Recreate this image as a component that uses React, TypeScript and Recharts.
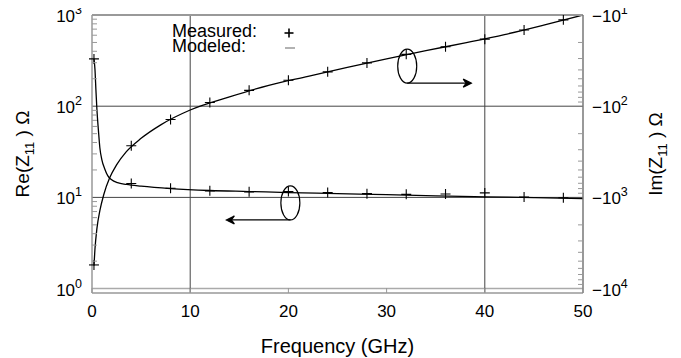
import { ComposedChart, Line, XAxis, YAxis, ReferenceLine, ReferenceDot } from 'recharts';

const FONT = '"Liberation Sans", Arial, Helvetica, sans-serif';

// measured points (GHz, ohm)
const measFreq = [0.2, 4, 8, 12, 16, 20, 24, 28, 32, 36, 40, 44, 48];
const reMeas = [330, 14.2, 12.6, 11.8, 11.5, 11.6, 11.3, 11.0, 10.8, 10.9, 11.2, 10.1, 9.9];
const imMeas = [-5500, -271, -140, -91, -67, -52, -42, -33.5, -27, -22.3, -18.4, -14.6, -11.3];

// modeled curves
const reModFreq = [0.2, 0.3, 0.4, 0.5, 0.65, 0.8, 1.0, 1.3, 1.6, 2.0, 2.6, 3.5, 5, 8, 12, 16, 20, 25, 30, 35, 40, 45, 50];
const reMod = [330, 255, 150, 92, 55, 35, 26, 20.5, 17.3, 15.6, 14.5, 13.9, 13.3, 12.5, 11.9, 11.6, 11.3, 11.0, 10.7, 10.4, 10.15, 9.95, 9.7];
const imModFreq = [0.2, 0.3, 0.5, 0.8, 1.2, 1.8, 2.5, 3.5, 5, 7, 10, 14, 18, 22, 26, 30, 34, 38, 42, 46, 50];
const imMod = [-5600, -3700, -2200, -1400, -930, -610, -440, -315, -225, -160, -110, -79, -59, -47, -37.5, -30.2, -24.6, -20.2, -16.4, -12.9, -10];

const freqTicks = [0, 10, 20, 30, 40, 50];
const reTicks = [1, 2, 3, 4, 5, 6, 7, 8, 9, 10, 20, 30, 40, 50, 60, 70, 80, 90, 100, 200, 300, 400, 500, 600, 700, 800, 900, 1000];
const imTicks = [10, 20, 30, 40, 50, 60, 70, 80, 90, 100, 200, 300, 400, 500, 600, 700, 800, 900, 1000, 2000, 3000, 4000, 5000, 6000, 7000, 8000, 9000, 10000];

const toRows = (f: number[], v: number[]) => f.map((x, i) => ({ f: x, v: v[i] }));
const reMeasData = toRows(measFreq, reMeas);
const imMeasData = toRows(measFreq, imMeas);
const reModData = toRows(reModFreq, reMod);
const imModData = toRows(imModFreq, imMod);

const decade = (v: number) => {
    const p = Math.log10(v);
    return Math.abs(p - Math.round(p)) < 1e-9 ? Math.round(p) : null;
};

function ReTick({ x, y, payload }: any) {
    const p = decade(payload.value);
    if (p === null) return <line x1={x} x2={x + 5} y1={y} y2={y} stroke="#999" />;
    return (
        <text x={x - 10} y={y + 7} textAnchor="end" fontSize={17} fontFamily={FONT} fill="#000">
            10<tspan dy={-8} fontSize={12.5}>{p}</tspan>
        </text>
    );
}

function ImTick({ x, y, payload }: any) {
    const p = decade(payload.value);
    if (p === null) return <line x1={x} x2={x - 5} y1={y} y2={y} stroke="#999" />;
    return (
        <text x={x + 9} y={y + 7} textAnchor="start" fontSize={17} fontFamily={FONT} fill="#000">
            −10<tspan dy={-8} fontSize={12.5}>{p}</tspan>
        </text>
    );
}

function FreqTick({ x, y, payload }: any) {
    return (
        <g>
            <line x1={x} x2={x} y1={y} y2={y - 5} stroke="#999" />
            <text x={x} y={y + 24} textAnchor="middle" fontSize={17} fontFamily={FONT} fill="#000">
                {payload.value}
            </text>
        </g>
    );
}

function TopTick({ x, y }: any) {
    return <line x1={x} x2={x} y1={y} y2={y + 5} stroke="#999" />;
}

function Plus({ cx, cy }: any) {
    if (cx == null || cy == null) return null;
    return (
        <g stroke="#000" strokeWidth={1.1}>
            <line x1={cx - 5} x2={cx + 5} y1={cy} y2={cy} />
            <line x1={cx} x2={cx} y1={cy - 5} y2={cy + 5} />
        </g>
    );
}

// ellipse with an arrow pointing to the axis that the curve belongs to
const pointer = (dir: number) => ({ cx, cy }: any) => {
    const ay = cy + 17;
    const tip = cx + dir * 64;
    return (
        <g stroke="#000" strokeWidth={1.2} fill="none">
            <ellipse cx={cx} cy={cy} rx={9.5} ry={17} />
            <line x1={cx} x2={tip - dir * 4} y1={ay} y2={ay} />
            <path d={`M${tip},${ay} L${tip - dir * 8},${ay - 4} L${tip - dir * 5},${ay} L${tip - dir * 8},${ay + 4} Z`} fill="#000" />
        </g>
    );
};

function ReTitle() {
    const cx = 29, cy = 154;
    return (
        <text transform={`rotate(-90, ${cx}, ${cy})`} x={cx} y={cy} textAnchor="middle" fontSize={19} fontFamily={FONT} fill="#000">
            Re(Z<tspan dy={5} fontSize={13}>11</tspan><tspan dy={-5}> ) Ω</tspan>
        </text>
    );
}

function ImTitle() {
    const cx = 662, cy = 154;
    return (
        <text transform={`rotate(-90, ${cx}, ${cy})`} x={cx} y={cy} textAnchor="middle" fontSize={19} fontFamily={FONT} fill="#000">
            Im(Z<tspan dy={5} fontSize={13}>11</tspan><tspan dy={-5}> ) Ω</tspan>
        </text>
    );
}

export default function App() {
    return (
        <div style={{ position: 'relative', width: 681, height: 358, margin: '-8px 0 0 -8px' }}>
            <ComposedChart width={681} height={358} margin={{ top: 14, right: 0, bottom: 0, left: 0 }}>
                <XAxis
                    xAxisId="top"
                    orientation="top"
                    type="number"
                    domain={[0, 50]}
                    ticks={freqTicks}
                    height={1}
                    tick={<TopTick />}
                    tickSize={0}
                    tickMargin={0}
                    interval={0}
                    axisLine={{ stroke: '#999', strokeWidth: 2 }}
                />
                <XAxis
                    dataKey="f"
                    type="number"
                    domain={[0, 50]}
                    ticks={freqTicks}
                    height={65}
                    tick={<FreqTick />}
                    tickSize={0}
                    tickMargin={0}
                    interval={0}
                    axisLine={{ stroke: '#999', strokeWidth: 1.5 }}
                    label={{ value: 'Frequency (GHz)', position: 'insideBottom', offset: 5, fontSize: 20, fontFamily: FONT, fill: '#000' }}
                />
                <YAxis
                    scale="log"
                    domain={[0.895, 1000]}
                    allowDataOverflow
                    ticks={reTicks}
                    width={92}
                    tick={<ReTick />}
                    tickSize={0}
                    tickMargin={0}
                    interval={0}
                    axisLine={{ stroke: '#999', strokeWidth: 1.5 }}
                    label={{ content: () => <ReTitle /> }}
                />
                <YAxis
                    yAxisId="im"
                    orientation="right"
                    scale="log"
                    reversed
                    domain={[10, 11170]}
                    allowDataOverflow
                    ticks={imTicks}
                    width={98}
                    tick={<ImTick />}
                    tickSize={0}
                    tickMargin={0}
                    interval={0}
                    axisLine={{ stroke: '#777', strokeWidth: 1.5 }}
                    label={{ content: () => <ImTitle /> }}
                />

                <ReferenceLine y={1} stroke="#aaa" strokeWidth={1.5} />
                <ReferenceLine y={10} stroke="#444" />
                <ReferenceLine y={100} stroke="#444" />
                <ReferenceLine x={10} stroke="#444" />
                <ReferenceLine x={40} stroke="#444" />

                <Line data={reModData} dataKey="v" type="monotone" stroke="#000" strokeWidth={1.3} dot={false} isAnimationActive={false} />
                <Line data={imModData} dataKey={(d: any) => -d.v} yAxisId="im" type="monotone" stroke="#000" strokeWidth={1.3} dot={false} isAnimationActive={false} />
                <Line data={reMeasData} dataKey="v" stroke="none" dot={<Plus />} activeDot={false} isAnimationActive={false} />
                <Line data={imMeasData} dataKey={(d: any) => -d.v} yAxisId="im" stroke="none" dot={<Plus />} activeDot={false} isAnimationActive={false} />

                <ReferenceDot x={32.1} y={275} r={0} shape={pointer(1)} />
                <ReferenceDot x={20.2} y={8.7} r={0} shape={pointer(-1)} />
            </ComposedChart>

            <svg width={681} height={358} style={{ position: 'absolute', left: 0, top: 0, pointerEvents: 'none' }}>
                <g fontFamily={FONT} fontSize={18} fill="#000">
                    <text x={172} y={37}>Measured:</text>
                    <text x={172} y={52}>Modeled:</text>
                </g>
                <g stroke="#000" strokeWidth={1.6}>
                    <line x1={284.5} x2={293.5} y1={33} y2={33} />
                    <line x1={289} x2={289} y1={28.5} y2={37.5} />
                </g>
                <line x1={285} x2={295} y1={48} y2={48} stroke="#999" strokeWidth={1.5} />
            </svg>
        </div>
    );
}
